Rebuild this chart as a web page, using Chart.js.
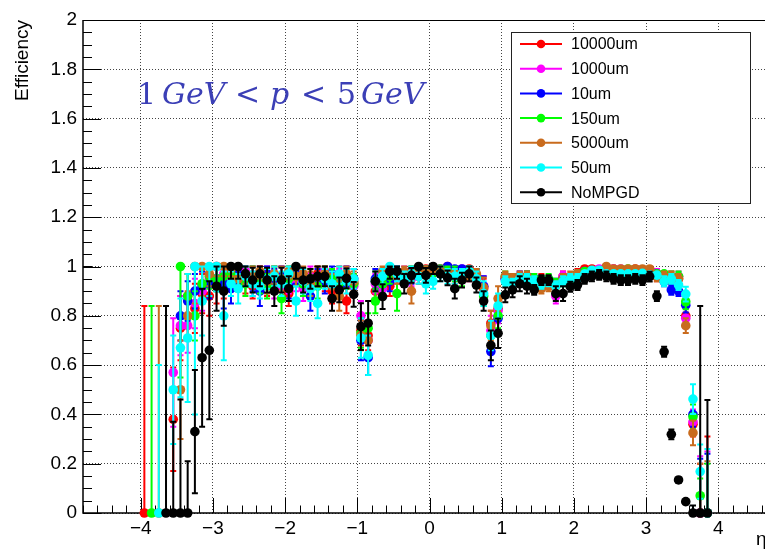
<!DOCTYPE html>
<html>
<head>
<meta charset="utf-8">
<script src="https://cdn.jsdelivr.net/npm/chart.js@4.4.1/dist/chart.umd.min.js"></script>
<style>
  body { margin: 0; overflow: hidden; background: #fff; }
  #caixa { width: 765px; height: 551px; overflow: hidden; }
</style>
</head>
<body>
<div id="caixa"><canvas id="grafico_eficiencia" width="800" height="551"></canvas></div>
<script>
// centros dos bins em eta
var eta = [
  -3.95,-3.85,-3.75,-3.65,-3.55,-3.45,-3.35,-3.25,-3.15,-3.05,
  -2.95,-2.85,-2.75,-2.65,-2.55,-2.45,-2.35,-2.25,-2.15,-2.05,
  -1.95,-1.85,-1.75,-1.65,-1.55,-1.45,-1.35,-1.25,-1.15,-1.05,
  -0.95,-0.85,-0.75,-0.65,-0.55,-0.45,-0.35,-0.25,-0.15,-0.05,
  0.05,0.15,0.25,0.35,0.45,0.55,0.65,0.75,0.85,0.95,
  1.05,1.15,1.25,1.35,1.45,1.55,1.65,1.75,1.85,1.95,
  2.05,2.15,2.25,2.35,2.45,2.55,2.65,2.75,2.85,2.95,
  3.05,3.15,3.25,3.35,3.45,3.55,3.65,3.75,3.85,3.95
];

var nomes = ['10000um', '1000um', '10um', '150um', '5000um', '50um', 'NoMPGD'];
var cores = ['#ff0000', '#ff00ff', '#0000ff', '#00ff00', '#c96b1d', '#00ffff', '#000000'];

var xTicks = [-4, -3, -2, -1, 0, 1, 2, 3, 4];
var xTickLabels = ['\u22124', '\u22123', '\u22122', '\u22121', '0', '1', '2', '3', '4'];
var yTicks = [0, 0.2, 0.4, 0.6, 0.8, 1, 1.2, 1.4, 1.6, 1.8, 2];
var yTickLabels = ['0', '0.2', '0.4', '0.6', '0.8', '1', '1.2', '1.4', '1.6', '1.8', '2'];

// eficiencia por serie
var ef_10000um = [
  0, null, null, null, .38, .75, .88, .83, .89, .88,
  .92, .93, .96, .98, .94, .92, .96, .93, .95, .91,
  .89, .97, .95, .92, .97, .94, .90, .96, .86, .93,
  .74, .72, .90, .92, .92, .97, .95, .98, .96, .99,
  .98, .99, 1.0, .96, .97, .99, .95, .91, .77, .83,
  .95, .94, .95, .96, .94, .95, .93, .92, .96, .95,
  .97, .99, .99, .98, .99, .99, .98, .98, .99, .98,
  .98, .96, .96, .95, .95, .80, .36, 0, 0, null
];
var err_10000um = [
  .84, 0, 0, 0, .21, .13, .09, .1, .08, .08,
  .07, .06, .05, .04, .05, .05, .05, .05, .05, .05,
  .05, .04, .04, .05, .04, .04, .05, .04, .05, .04,
  .06, .06, .05, .04, .04, .03, .03, .03, .03, .02,
  .02, .02, .02, .03, .03, .02, .03, .04, .05, .05,
  .02, .02, .02, .02, .02, .02, .02, .02, .02, .02,
  .02, .01, .01, .01, .01, .01, .01, .01, .01, .01,
  .01, .02, .02, .02, .02, .04, .05, .2, .31, 0
];

var ef_1000um = [
  null, null, null, null, .57, .76, .76, .85, .90, .95,
  1.0, .97, .95, .97, .98, .93, .95, .97, .92, .96,
  .94, .95, .91, .96, .95, .98, .93, .95, .96, .92,
  .80, .70, .93, .91, .96, .96, .97, .95, .98, .97,
  .98, .99, .98, .98, .99, .97, .96, .92, .74, .82,
  .95, .95, .96, .95, .95, .94, .93, .88, .96, .95,
  .96, .98, .98, .99, .98, .99, .99, .98, .98, .98,
  .97, .97, .96, .96, .96, .79, .37, 0, 0, null
];
var err_1000um = [
  0, 0, 0, 0, .22, .12, .11, .1, .08, .07,
  .06, .06, .05, .04, .04, .05, .05, .04, .05, .05,
  .05, .05, .05, .04, .04, .03, .05, .04, .04, .04,
  .06, .07, .04, .04, .03, .03, .03, .03, .02, .03,
  .02, .02, .02, .02, .02, .03, .03, .04, .06, .05,
  .02, .02, .02, .02, .02, .02, .02, .03, .02, .02,
  .02, .01, .01, .01, .01, .01, .01, .01, .01, .01,
  .01, .02, .02, .02, .02, .04, .05, .23, .25, 0
];

var ef_10um = [
  null, null, null, null, null, .80, .86, .90, .92, .93,
  .95, .93, .91, .97, .96, .95, .90, .97, .94, .96,
  .92, .97, .93, .88, .95, .94, .97, .92, .96, .95,
  .70, .63, .95, .93, .94, .97, .96, .96, .97, .98,
  .99, .98, 1.0, .99, .99, .98, .96, .92, .655, .79,
  .95, .95, .96, .96, .95, .94, .94, .93, .95, .95,
  .97, .98, .97, .97, .98, .98, .98, .98, .98, .98,
  .97, .97, .94, .905, .90, .843, .40, 0, 0, null
];
var err_10um = [
  0, 0, 0, 0, 0, .1, .08, .07, .06, .06,
  .05, .1, .06, .04, .04, .05, .06, .04, .05, .04,
  .05, .04, .05, .06, .04, .05, .04, .05, .04, .04,
  .08, .07, .04, .04, .04, .03, .03, .03, .02, .02,
  .02, .02, .02, .02, .02, .02, .03, .04, .06, .05,
  .02, .02, .02, .02, .02, .02, .02, .02, .02, .02,
  .01, .01, .01, .01, .01, .01, .01, .01, .01, .01,
  .01, .01, .02, .02, .02, .03, .05, .22, .24, 0
];

var ef_150um = [
  null, 0, null, null, null, 1.0, .88, .80, .93, .96,
  .95, .96, .97, .95, .93, .96, .94, .92, .96, .87,
  .95, .96, .93, .95, .92, .97, .95, .93, .95, .93,
  .73, .75, .86, .93, .96, .89, .96, .97, .98, .97,
  .98, .99, .98, .97, .95, .98, .96, .88, .72, .80,
  .96, .95, .95, .96, .95, .94, .95, .93, .94, .93,
  .97, .98, .98, .98, .99, .98, .98, .99, .98, .98,
  .98, .97, .97, .96, .96, .857, .39, .07, 0, null
];
var err_150um = [
  0, .84, 0, 0, 0, .45, .09, .1, .07, .05,
  .05, .05, .04, .05, .05, .04, .05, .05, .04, .06,
  .05, .04, .05, .04, .05, .03, .04, .05, .04, .04,
  .06, .06, .05, .04, .03, .07, .03, .03, .02, .03,
  .02, .02, .02, .03, .03, .02, .03, .04, .05, .05,
  .02, .02, .02, .02, .02, .02, .02, .02, .02, .02,
  .01, .01, .01, .01, .01, .01, .01, .01, .01, .01,
  .01, .01, .01, .02, .02, .03, .05, .07, .2, 0
];

var ef_5000um = [
  null, null, 0, null, null, .50, .80, 1.0, 1.0, .97,
  1.0, 1.0, .99, .95, .97, .96, .98, .94, .97, .95,
  .98, .96, .97, .93, .96, .97, .92, .88, .97, .94,
  .72, .70, .94, .98, .99, .96, .98, .90, .98, .97,
  .99, .98, .97, .97, .97, .96, .97, .915, .76, .87,
  .96, .95, .96, .96, .92, .91, .92, .92, .95, .96,
  .97, .97, .98, .98, 1.0, .99, .99, .99, .99, .99,
  .99, .96, .96, .96, .95, .76, .325, 0, 0, null
];
var err_5000um = [
  0, 0, .84, 0, 0, .2, .1, .15, .12, .05,
  .04, .04, .03, .05, .04, .04, .03, .05, .04, .05,
  .03, .04, .04, .05, .04, .03, .05, .06, .03, .04,
  .06, .07, .04, .03, .02, .03, .02, .05, .02, .03,
  .02, .02, .02, .02, .02, .02, .02, .04, .06, .05,
  .02, .02, .02, .02, .02, .02, .02, .02, .02, .02,
  .01, .01, .01, .01, .01, .01, .01, .01, .01, .01,
  .01, .02, .02, .02, .02, .03, .05, .2, .21, 0
];

var ef_50um = [
  null, null, 0, null, .50, .67, .71, 1.0, .86, 1.0,
  1.0, .80, .93, .91, .96, .93, .92, .95, .96, .93,
  .97, .86, .94, .91, .85, .95, .93, .97, .94, .95,
  .71, .64, .94, .96, 1.0, .97, .95, .97, .96, .93,
  .94, .97, .96, .96, .97, .98, .95, .89, .72, .84,
  .94, .93, .95, .95, .94, .93, .94, .92, .94, .95,
  .95, .97, .985, .985, .97, .97, .97, .97, .97, .972,
  .965, .965, .94, .95, .925, .888, .462, .168, 0, null
];
var err_50um = [
  0, 0, .6, 0, .22, .2, .26, .6, .14, .12,
  .1, .18, .05, .06, .04, .05, .05, .04, .04, .05,
  .04, .06, .05, .05, .06, .04, .05, .04, .05, .04,
  .08, .08, .04, .03, .02, .03, .03, .03, .03, .04,
  .03, .03, .03, .03, .02, .02, .03, .05, .06, .05,
  .02, .02, .02, .02, .02, .02, .02, .02, .02, .02,
  .02, .01, .01, .01, .01, .01, .01, .01, .01, .01,
  .01, .01, .02, .02, .02, .03, .06, .11, .26, 0
];

var ef_nompgd = [
  null, null, null, 0, 0, 0, 0, .33, .63, .66,
  .92, .90, 1.0, 1.0, .97, .945, .97, .945, .90, .945,
  .91, 1.0, .945, .95, .96, .96, .87, .905, .952, .887,
  .756, .77, .94, .878, .98, .98, .93, .964, 1.0, .964,
  1.0, .97, .954, .91, .945, .97, .925, .86, .68, .729,
  .885, .905, .93, .92, .905, .945, .945, .89, .89, .918,
  .925, .95, .96, .966, .96, .95, .945, .945, .95, .945,
  .959, .88, .654, .319, .134, .046, 0, 0, 0, null
];
var err_nompgd = [
  0, 0, 0, .84, .37, .46, .21, .25, .28, .28,
  .1, .14, .05, .05, .05, .05, .05, .05, .06, .05,
  .05, .05, .05, .04, .04, .04, .05, .05, .04, .05,
  .095, .09, .04, .05, .03, .03, .04, .03, .03, .03,
  .03, .03, .03, .04, .03, .03, .03, .04, .06, .06,
  .03, .03, .03, .03, .02, .02, .02, .03, .03, .02,
  .02, .02, .02, .02, .02, .02, .02, .02, .02, .02,
  .02, .02, .02, .02, .01, .01, .03, .84, .458, 0
];

var valores = [ef_10000um, ef_1000um, ef_10um, ef_150um, ef_5000um, ef_50um, ef_nompgd];
var erros = [err_10000um, err_1000um, err_10um, err_150um, err_5000um, err_50um, err_nompgd];

function montar_pontos(vals, errs) {
    var pts = [];
    for (var i = 0; i < eta.length; i++) {
        if (vals[i] != null) {
            pts.push({ x: eta[i], y: vals[i], e: errs[i] });
        }
    }
    return pts;
}

var datasets = [];
for (var s = 0; s < nomes.length; s++) {
    datasets.push({
        label: nomes[s],
        data: montar_pontos(valores[s], erros[s]),
        backgroundColor: cores[s],
        borderColor: cores[s],
        borderWidth: 0,
        pointRadius: 4.8,
        pointHoverRadius: 4.8,
        order: nomes.length - 1 - s,
        clip: false
    });
}

// barras de erro, desenhadas antes dos pontos de cada serie
var barras_erro = {
    id: 'barras_erro',
    beforeDatasetDraw(chart, args) {
        var ds = chart.data.datasets[args.index];
        var sy = chart.scales.y;
        var ctx = chart.ctx;
        ctx.save();
        ctx.strokeStyle = ds.borderColor;
        ctx.lineWidth = 2;
        args.meta.data.forEach((pt, i) => {
            var d = ds.data[i];
            if (!d.e) return;
            var lo = Math.max(0, d.y - d.e);
            var hi = Math.min(1, d.y + d.e);
            var yl = sy.getPixelForValue(lo);
            var yh = sy.getPixelForValue(hi);
            ctx.beginPath();
            ctx.moveTo(pt.x, yl);
            ctx.lineTo(pt.x, yh);
            ctx.moveTo(pt.x - 3, yh);
            ctx.lineTo(pt.x + 3, yh);
            if (lo > 0) {
                ctx.moveTo(pt.x - 3, yl);
                ctx.lineTo(pt.x + 3, yl);
            }
            ctx.stroke();
        });
        ctx.restore();
    }
};

// moldura e ticks no estilo ROOT
var moldura = {
    id: 'moldura',
    beforeDatasetsDraw(chart) {
        var a = chart.chartArea;
        var sx = chart.scales.x, sy = chart.scales.y;
        var ctx = chart.ctx;
        ctx.save();
        ctx.strokeStyle = '#000';
        ctx.lineWidth = 1;
        ctx.beginPath();
        ctx.moveTo(a.left, a.top + 0.5);
        ctx.lineTo(a.right, a.top + 0.5);
        ctx.stroke();
        ctx.lineWidth = 1.5;
        ctx.beginPath();
        ctx.moveTo(a.left, a.top);
        ctx.lineTo(a.left, a.bottom);
        ctx.lineTo(a.right, a.bottom);
        ctx.stroke();

        ctx.lineWidth = 1;
        ctx.beginPath();
        // ticks menores do eixo x
        for (var v = sx.min; v <= sx.max + 1e-6; v += 0.2) {
            var px = Math.round(sx.getPixelForValue(v)) + 0.5;
            ctx.moveTo(px, a.bottom);
            ctx.lineTo(px, a.bottom - 7.5);
        }
        xTicks.forEach(t => {
            var px = Math.round(sx.getPixelForValue(t)) + 0.5;
            ctx.moveTo(px, a.bottom);
            ctx.lineTo(px, a.bottom - 15);
        });
        for (var w = 0; w <= 2 + 1e-6; w += 0.05) {
            var py = Math.round(sy.getPixelForValue(w)) + 0.5;
            ctx.moveTo(a.left, py);
            ctx.lineTo(a.left + 9, py);
        }
        yTicks.forEach(t => {
            var py = Math.round(sy.getPixelForValue(t)) + 0.5;
            ctx.moveTo(a.left, py);
            ctx.lineTo(a.left + 18, py);
        });
        ctx.stroke();
        ctx.restore();
    },
    afterDraw(chart) {
        var a = chart.chartArea;
        var ctx = chart.ctx;
        ctx.save();
        // titulos dos eixos
        ctx.fillStyle = '#000';
        ctx.font = '19px "Liberation Sans", Arial, sans-serif';
        ctx.translate(28, a.top);
        ctx.rotate(-Math.PI / 2);
        ctx.textAlign = 'right';
        ctx.textBaseline = 'alphabetic';
        ctx.fillText('Efficiency', 0, 0);
        ctx.restore();

        ctx.save();
        ctx.fillStyle = '#000';
        ctx.font = '19px "Liberation Sans", Arial, sans-serif';
        ctx.textAlign = 'left';
        ctx.fillText('\u03b7', 756, 545);

        // texto do intervalo de momento
        ctx.fillStyle = '#3b3fb6';
        ctx.textBaseline = 'alphabetic';
        var reto = '30px "DejaVu Serif", serif';
        var italico = 'italic 30px "DejaVu Serif", serif';
        var pedacos = [
            ['1', reto, 137], ['GeV', italico, 162], ['<', reto, 235],
            ['p', italico, 270], ['<', reto, 301], ['5', reto, 337], ['GeV', italico, 361]
        ];
        pedacos.forEach(p => {
            ctx.font = p[1];
            ctx.fillText(p[0], p[2], 104);
        });

        // legenda
        var lx = 511, ly = 32, lw = 239, lh = 171;
        ctx.fillStyle = '#fff';
        ctx.fillRect(lx, ly, lw, lh);
        ctx.strokeStyle = '#222';
        ctx.lineWidth = 1;
        ctx.strokeRect(lx + 0.5, ly + 0.5, lw, lh);
        ctx.font = '16px "Liberation Sans", Arial, sans-serif';
        ctx.textBaseline = 'middle';
        for (var s = 0; s < nomes.length; s++) {
            var cy = 44 + s * 24.7;
            ctx.strokeStyle = cores[s];
            ctx.lineWidth = 2;
            ctx.beginPath();
            ctx.moveTo(520, cy);
            ctx.lineTo(562, cy);
            ctx.stroke();
            ctx.fillStyle = cores[s];
            ctx.beginPath();
            ctx.arc(541, cy, 4.3, 0, Math.PI * 2);
            ctx.fill();
            ctx.fillStyle = '#000';
            ctx.fillText(nomes[s], 571, cy + 1);
        }
        ctx.restore();
    }
};

Chart.defaults.font.family = '"Liberation Sans", Arial, sans-serif';
Chart.defaults.color = '#000';

var ctx = document.getElementById('grafico_eficiencia');

new Chart(ctx, {
    type: 'scatter',
    data: { datasets: datasets },
    options: {
        responsive: false,
        animation: false,
        layout: { padding: { left: 0, right: 24, top: 20, bottom: 0 } },
        plugins: {
            legend: { display: false },
            tooltip: { enabled: false }
        },
        scales: {
            x: {
                type: 'linear',
                min: -4.8,
                max: 4.8,
                afterBuildTicks: (sc) => { sc.ticks = xTicks.map(v => ({ value: v })); },
                afterFit: (sc) => { sc.height = 38; },
                ticks: {
                    callback: (v, i) => xTickLabels[i],
                    font: { size: 19 },
                    color: '#000',
                    padding: 4,
                    maxRotation: 0,
                    autoSkip: false
                },
                grid: { color: '#444', lineWidth: 1, drawTicks: false },
                border: { display: false, dash: [1, 2] }
            },
            y: {
                type: 'linear',
                min: 0,
                max: 2,
                afterBuildTicks: (sc) => { sc.ticks = yTicks.map(v => ({ value: v })); },
                afterFit: (sc) => { sc.width = 83; },
                ticks: {
                    callback: (v, i) => yTickLabels[i],
                    font: { size: 19 },
                    color: '#000',
                    padding: 6,
                    autoSkip: false
                },
                grid: { color: '#444', lineWidth: 1, drawTicks: false },
                border: { display: false, dash: [1, 2] }
            }
        }
    },
    plugins: [barras_erro, moldura]
});
</script>
</body>
</html>
